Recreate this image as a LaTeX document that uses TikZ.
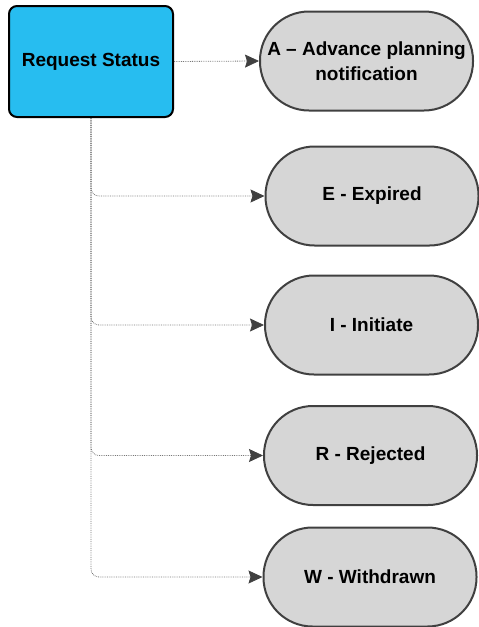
\documentclass[tikz,border=0pt]{standalone}
\usepackage{fontspec}
\setmainfont{Liberation Sans}
\usetikzlibrary{arrows.meta}
\definecolor{cyanfill}{RGB}{39,189,240}
\definecolor{pillfill}{RGB}{214,214,214}
\definecolor{pilledge}{RGB}{64,64,64}
\definecolor{linegray}{RGB}{120,120,120}
\tikzset{
  rootbox/.style={draw=black, line width=2pt, fill=cyanfill, rounded corners=8pt,
    minimum width=164pt, minimum height=111pt, inner sep=0pt,
    font=\fontsize{19}{25}\selectfont\bfseries},
  pill/.style={draw=pilledge, line width=2pt, fill=pillfill, rounded corners=49pt,
    minimum width=213pt, minimum height=99pt, inner sep=0pt, align=center,
    font=\fontsize{19}{25}\selectfont\bfseries},
  conn/.style={draw=linegray, line width=0.8pt, densely dotted, rounded corners=8pt,
    -{Stealth[length=14pt,width=13pt,inset=2pt,color=pilledge]}}
}
\begin{document}
\begin{tikzpicture}[x=1pt,y=-1pt]
\useasboundingbox (0,0) rectangle (479,627);
\node[rootbox] (rs) at (91,61.5) {Request Status};
\node[pill] (A) at (366.5,61) {A – Advance planning\\notification};
\node[pill] (E) at (372,196) {E - Expired};
\node[pill] (I) at (371.5,325) {I - Initiate};
\node[pill] (R) at (370.5,455.5) {R - Rejected};
\node[pill] (W) at (370,577) {W - Withdrawn};
\draw[conn] (rs.east) -- (A.west);
\draw[conn] (rs.south) |- (E.west);
\draw[conn] (rs.south) |- (I.west);
\draw[conn] (rs.south) |- (R.west);
\draw[conn] (rs.south) |- (W.west);
\end{tikzpicture}
\end{document}
